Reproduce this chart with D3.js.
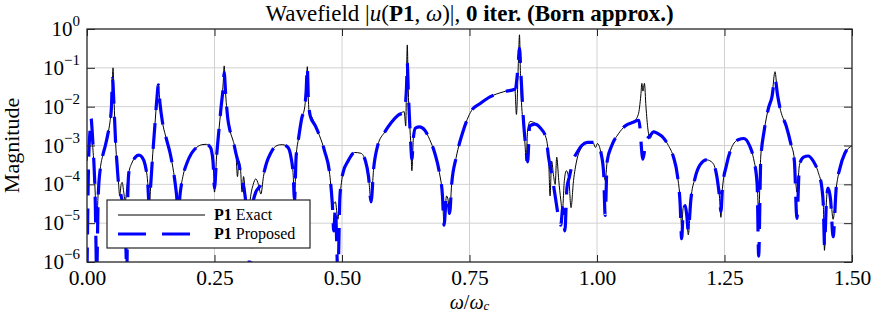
<!DOCTYPE html>
<html>
<head>
<meta charset="utf-8">
<script src="https://cdn.jsdelivr.net/npm/d3@7"></script>
<style>
  body { margin: 0; background: #fff; }
  svg text { font-family: "Liberation Serif", "DejaVu Serif", serif; fill: #000; }
</style>
</head>
<body>
<svg id="chart" width="872" height="313"></svg>
<script>
// frequency (omega / omega_c) and log10 magnitude
const exactW = [0.000,0.004,0.008,0.011,0.014,0.017,0.019,0.022,0.026,0.031,0.036,0.041,0.045,0.048,0.050,0.051,0.053,0.056,0.059,0.062,0.064,0.067,0.069,0.072,0.075,0.078,0.082,0.088,0.095,0.102,0.108,0.114,0.119,0.122,0.125,0.129,0.133,0.137,0.140,0.143,0.148,0.155,0.163,0.170,0.175,0.179,0.183,0.188,0.196,0.205,0.215,0.225,0.234,0.242,0.247,0.250,0.254,0.258,0.263,0.267,0.269,0.272,0.276,0.281,0.287,0.292,0.295,0.298,0.301,0.304,0.307,0.311,0.316,0.320,0.326,0.331,0.336,0.341,0.346,0.352,0.360,0.370,0.380,0.384,0.394,0.400,0.404,0.407,0.410,0.415,0.421,0.427,0.4297,0.432,0.434,0.436,0.440,0.448,0.456,0.466,0.476,0.481,0.484,0.487,0.492,0.496,0.502,0.512,0.525,0.537,0.546,0.552,0.557,0.562,0.570,0.584,0.597,0.610,0.622,0.625,0.6268,0.628,0.630,0.633,0.635,0.637,0.640,0.644,0.652,0.662,0.672,0.682,0.691,0.697,0.700,0.705,0.708,0.711,0.715,0.724,0.737,0.754,0.771,0.790,0.816,0.839,0.842,0.846,0.848,0.850,0.852,0.856,0.859,0.861,0.864,0.869,0.878,0.889,0.900,0.905,0.908,0.911,0.915,0.918,0.921,0.925,0.929,0.932,0.936,0.940,0.945,0.949,0.954,0.960,0.970,0.981,0.992,0.997,1.001,1.008,1.013,1.016,1.020,1.029,1.042,1.055,1.071,1.081,1.086,1.088,1.090,1.093,1.096,1.100,1.104,1.111,1.120,1.130,1.140,1.150,1.158,1.163,1.166,1.169,1.173,1.176,1.179,1.184,1.192,1.202,1.215,1.227,1.235,1.240,1.243,1.246,1.254,1.264,1.277,1.288,1.299,1.308,1.314,1.317,1.321,1.328,1.336,1.343,1.349,1.354,1.360,1.371,1.380,1.387,1.392,1.397,1.405,1.414,1.424,1.434,1.441,1.444,1.446,1.450,1.453,1.458,1.463,1.469,1.476,1.486,1.497,1.500];
const exactE = [-3.4,-3.0,-2.75,-3.0,-3.6,-4.5,-5.0,-4.2,-3.6,-3.25,-3.0,-2.7,-2.4,-2.0,-1.2,-1.0,-1.8,-2.9,-3.5,-4.0,-4.3,-4.0,-3.95,-4.2,-4.45,-4.1,-3.7,-3.45,-3.3,-3.25,-3.3,-3.5,-3.95,-4.6,-4.0,-3.2,-2.5,-1.8,-1.44,-1.9,-2.4,-2.8,-3.2,-3.7,-4.2,-4.8,-4.2,-3.8,-3.45,-3.2,-3.05,-2.98,-2.97,-3.05,-3.3,-4.2,-3.3,-2.7,-2.0,-1.4,-0.95,-1.7,-2.3,-2.65,-2.9,-3.2,-3.8,-3.4,-3.6,-4.2,-3.8,-4.4,-5.0,-4.4,-4.0,-3.86,-4.0,-4.25,-3.8,-3.45,-3.2,-3.02,-2.98,-2.98,-3.05,-3.3,-3.7,-4.4,-3.3,-2.8,-2.3,-2.0,-1.6,-0.97,-1.8,-2.2,-2.25,-2.5,-2.75,-3.15,-3.75,-4.4,-4.5,-4.45,-4.9,-4.3,-3.7,-3.4,-3.18,-3.2,-3.4,-3.8,-4.45,-3.6,-3.0,-2.65,-2.4,-2.22,-2.13,-2.5,-1.0,-0.41,-1.6,-2.5,-3.0,-3.65,-2.8,-2.55,-2.52,-2.6,-2.85,-3.2,-3.7,-4.3,-5.0,-4.3,-4.4,-4.75,-4.0,-3.3,-2.65,-2.1,-1.92,-1.75,-1.62,-1.55,-2.2,-0.8,-0.15,-1.2,-1.9,-2.5,-3.0,-3.4,-2.6,-2.38,-2.42,-2.55,-2.8,-3.3,-4.3,-3.4,-3.8,-4.0,-3.3,-3.9,-4.4,-4.7,-3.9,-3.65,-3.9,-4.6,-3.9,-3.4,-3.05,-2.92,-2.92,-3.05,-2.95,-3.2,-3.6,-3.9,-3.4,-3.0,-2.7,-2.5,-2.4,-2.2,-1.7,-1.4,-1.6,-1.4,-2.0,-2.6,-2.82,-2.63,-2.7,-2.8,-3.0,-3.3,-3.8,-4.4,-5.1,-4.6,-4.55,-4.8,-5.3,-4.4,-3.85,-3.5,-3.37,-3.45,-3.8,-4.3,-4.85,-4.1,-3.5,-3.05,-2.85,-2.82,-3.0,-3.4,-3.9,-4.8,-3.3,-2.6,-2.05,-1.75,-1.1,-1.7,-2.1,-2.5,-2.95,-3.35,-4.2,-3.5,-3.3,-3.27,-3.4,-3.7,-4.1,-4.6,-5.7,-4.4,-4.1,-4.3,-4.9,-4.1,-3.6,-3.2,-3.03,-3.0];

const propW = [0.000,0.003,0.006,0.008,0.010,0.013,0.016,0.019,0.022,0.026,0.031,0.036,0.041,0.045,0.048,0.050,0.052,0.056,0.059,0.062,0.067,0.072,0.076,0.078,0.080,0.082,0.088,0.095,0.102,0.108,0.114,0.119,0.122,0.125,0.129,0.133,0.137,0.140,0.143,0.148,0.155,0.163,0.170,0.175,0.179,0.183,0.188,0.196,0.205,0.215,0.225,0.234,0.242,0.247,0.250,0.254,0.258,0.263,0.267,0.269,0.272,0.276,0.281,0.287,0.292,0.298,0.304,0.310,0.315,0.320,0.324,0.331,0.336,0.341,0.346,0.352,0.360,0.370,0.380,0.384,0.394,0.400,0.404,0.407,0.410,0.415,0.421,0.427,0.4297,0.432,0.434,0.438,0.448,0.456,0.466,0.476,0.481,0.484,0.487,0.492,0.496,0.502,0.512,0.525,0.537,0.546,0.552,0.557,0.562,0.570,0.584,0.597,0.610,0.622,0.6265,0.628,0.630,0.633,0.635,0.637,0.640,0.644,0.652,0.662,0.672,0.682,0.691,0.697,0.700,0.705,0.708,0.711,0.715,0.724,0.737,0.754,0.771,0.790,0.816,0.839,0.845,0.848,0.851,0.856,0.860,0.864,0.868,0.878,0.889,0.900,0.905,0.912,0.918,0.924,0.929,0.933,0.937,0.941,0.946,0.954,0.960,0.970,0.981,0.992,1.001,1.008,1.013,1.016,1.020,1.029,1.042,1.055,1.071,1.082,1.090,1.096,1.104,1.111,1.120,1.130,1.140,1.150,1.158,1.163,1.166,1.169,1.173,1.176,1.179,1.184,1.192,1.202,1.215,1.227,1.235,1.240,1.243,1.246,1.254,1.264,1.277,1.288,1.299,1.308,1.314,1.317,1.321,1.328,1.336,1.343,1.349,1.354,1.360,1.371,1.380,1.387,1.392,1.397,1.405,1.414,1.424,1.434,1.441,1.444,1.446,1.450,1.453,1.458,1.463,1.469,1.476,1.486,1.497,1.500];
const propE = [-6.3,-3.5,-2.6,-2.3,-2.6,-3.3,-4.3,-6.3,-4.3,-3.6,-3.25,-3.0,-2.7,-2.4,-2.0,-1.27,-1.7,-2.9,-3.5,-4.0,-4.3,-4.7,-5.5,-6.3,-4.3,-3.7,-3.45,-3.3,-3.25,-3.3,-3.5,-3.95,-4.55,-4.0,-3.2,-2.5,-1.8,-1.44,-1.9,-2.4,-2.8,-3.2,-3.7,-4.2,-4.7,-4.2,-3.8,-3.45,-3.2,-3.05,-2.98,-2.97,-3.05,-3.4,-4.1,-3.3,-2.7,-2.0,-1.5,-1.12,-1.7,-2.3,-2.65,-2.9,-3.2,-3.5,-3.85,-4.3,-5.0,-6.3,-4.6,-4.2,-4.1,-4.0,-3.75,-3.45,-3.2,-3.02,-2.98,-2.98,-3.05,-3.3,-3.7,-4.4,-3.3,-2.8,-2.3,-2.0,-1.6,-0.97,-1.8,-2.25,-2.5,-2.75,-3.15,-3.75,-4.5,-5.2,-4.6,-6.3,-4.3,-3.7,-3.4,-3.18,-3.2,-3.4,-3.8,-4.45,-3.6,-3.0,-2.65,-2.4,-2.22,-2.13,-1.5,-0.88,-1.6,-2.5,-3.0,-3.35,-2.8,-2.55,-2.52,-2.6,-2.85,-3.2,-3.7,-4.3,-5.05,-4.3,-4.4,-4.75,-4.0,-3.3,-2.65,-2.1,-1.92,-1.75,-1.62,-1.55,-1.0,-0.5,-1.2,-2.4,-3.0,-3.42,-2.5,-2.45,-2.55,-2.8,-3.3,-3.8,-4.3,-4.8,-5.05,-4.6,-5.2,-4.1,-3.8,-3.35,-3.2,-3.0,-2.92,-2.92,-2.95,-3.2,-3.7,-4.8,-3.4,-3.0,-2.7,-2.5,-2.4,-2.35,-3.35,-2.9,-2.75,-2.65,-2.7,-2.8,-3.0,-3.3,-3.8,-4.5,-5.4,-4.7,-4.55,-4.8,-5.2,-4.4,-3.85,-3.5,-3.37,-3.45,-3.8,-4.3,-4.7,-4.1,-3.5,-3.05,-2.85,-2.82,-3.0,-3.4,-4.0,-5.85,-3.4,-2.6,-2.05,-1.75,-1.27,-1.7,-2.1,-2.5,-2.95,-3.4,-4.88,-3.5,-3.3,-3.27,-3.4,-3.7,-4.1,-4.6,-5.56,-4.4,-4.1,-4.4,-5.35,-4.1,-3.6,-3.2,-3.03,-3.0];

const xTicks = [0, 0.25, 0.5, 0.75, 1.0, 1.25, 1.5];
const yTicks = [1e-6, 1e-5, 1e-4, 1e-3, 1e-2, 1e-1, 1];
const yTickExp = ["\u22126", "\u22125", "\u22124", "\u22123", "\u22122", "\u22121", "0"];

const padLeft = 87, padTop = 29, plotW = 765, plotH = 233;

const svg = d3.select("#chart");

const x = d3.scaleLinear().domain([0, 1.5]).range([padLeft, padLeft + plotW]);
const y = d3.scaleLog().domain([1e-6, 1]).range([padTop + plotH, padTop]);

// pair up the arrays
const exactData = exactW.map((w, i) => ({ w: w, v: Math.pow(10, exactE[i]) }));
const propData = propW.map((w, i) => ({ w: w, v: Math.pow(10, propE[i]) }));

svg.append("clipPath").attr("id", "plotClip")
  .append("rect").attr("x", padLeft).attr("y", padTop).attr("width", plotW).attr("height", plotH);

// grid
const grid = svg.append("g").attr("stroke", "#d2d2d2").attr("stroke-width", 1);
grid.selectAll(".gx").data(xTicks.slice(1, -1)).enter().append("line")
  .attr("x1", d => x(d)).attr("x2", d => x(d)).attr("y1", padTop).attr("y2", padTop + plotH);
grid.selectAll(".gy").data(yTicks.slice(1, -1)).enter().append("line")
  .attr("y1", d => y(d)).attr("y2", d => y(d)).attr("x1", padLeft).attr("x2", padLeft + plotW);

const line = d3.line()
  .x(d => x(d.w))
  .y(d => y(d.v))
  .curve(d3.curveMonotoneX);

const plot = svg.append("g").attr("clip-path", "url(#plotClip)");

plot.append("path").datum(exactData)
  .attr("d", line)
  .attr("fill", "none").attr("stroke", "#000").attr("stroke-width", 1);

plot.append("path").datum(propData)
  .attr("d", line)
  .attr("fill", "none").attr("stroke", "#0000ff").attr("stroke-width", 3.2)
  .attr("stroke-dasharray", "26,13");

// axes with inward ticks on all four sides
const axisColor = "#262626";
const xAxis = d3.axisBottom(x).tickValues(xTicks).tickSizeInner(-7).tickSizeOuter(0)
  .tickPadding(8).tickFormat(d3.format(".2f"));
const gx = svg.append("g").attr("transform", `translate(0,${padTop + plotH})`).call(xAxis);
gx.selectAll("text").attr("font-size", 21.5).attr("font-family", "Liberation Serif");

const xTop = d3.axisTop(x).tickValues(xTicks).tickSizeInner(-7).tickSizeOuter(0).tickFormat("");
svg.append("g").attr("transform", `translate(0,${padTop})`).call(xTop);

const yAxis = d3.axisLeft(y).tickValues(yTicks).tickSizeInner(-8).tickSizeOuter(0).tickFormat("");
svg.append("g").attr("transform", `translate(${padLeft},0)`).call(yAxis);
const yRight = d3.axisRight(y).tickValues(yTicks).tickSizeInner(-8).tickSizeOuter(0).tickFormat("");
svg.append("g").attr("transform", `translate(${padLeft + plotW},0)`).call(yRight);

svg.selectAll(".domain").remove();
svg.selectAll(".tick line").attr("stroke", axisColor);

// y tick labels as 10 with superscript
yTicks.forEach((t, i) => {
  const txt = svg.append("text")
    .attr("x", padLeft - 7).attr("y", y(t) + 7)
    .attr("text-anchor", "end").attr("font-size", 21);
  txt.append("tspan").text("10");
  txt.append("tspan").attr("font-size", 15).attr("dy", -10).text(yTickExp[i]);
});

// plot box
svg.append("rect").attr("x", padLeft).attr("y", padTop).attr("width", plotW).attr("height", plotH)
  .attr("fill", "none").attr("stroke", axisColor).attr("stroke-width", 1.3);

// title
const title = svg.append("text").attr("x", padLeft + plotW / 2).attr("y", 21)
  .attr("text-anchor", "middle").attr("font-size", 23);
title.append("tspan").text("Wavefield |");
title.append("tspan").attr("font-style", "italic").text("u");
title.append("tspan").text("(");
title.append("tspan").attr("font-weight", "bold").text("P1");
title.append("tspan").text(", ");
title.append("tspan").attr("font-style", "italic").text("\u03c9");
title.append("tspan").text(")|, ");
title.append("tspan").attr("font-weight", "bold").text("0 iter.  (Born approx.)");

// axis labels
const xl = svg.append("text").attr("x", padLeft + plotW / 2).attr("y", 309)
  .attr("text-anchor", "middle").attr("font-size", 20).attr("font-style", "italic");
xl.append("tspan").text("\u03c9");
xl.append("tspan").attr("font-style", "normal").text("/");
xl.append("tspan").text("\u03c9");
xl.append("tspan").attr("font-size", 13).attr("dy", 1).text("c");

svg.append("text")
  .attr("transform", `translate(19,${padTop + plotH / 2}) rotate(-90)`)
  .attr("text-anchor", "middle").attr("font-size", 22)
  .text("Magnitude");

// legend
const lg = svg.append("g");
lg.append("rect").attr("x", 107).attr("y", 200).attr("width", 203).attr("height", 48)
  .attr("fill", "#fff").attr("stroke", axisColor).attr("stroke-width", 1.2);
lg.append("line").attr("x1", 118).attr("x2", 205).attr("y1", 215).attr("y2", 215)
  .attr("stroke", "#000").attr("stroke-width", 1);
lg.append("line").attr("x1", 118).attr("x2", 205).attr("y1", 234).attr("y2", 234)
  .attr("stroke", "#0000ff").attr("stroke-width", 3.2).attr("stroke-dasharray", "28,16");
const legendNames = ["Exact", "Proposed"];
legendNames.forEach((n, i) => {
  const t = lg.append("text").attr("x", 214).attr("y", 220 + i * 19).attr("font-size", 16);
  t.append("tspan").attr("font-weight", "bold").text("P1");
  t.append("tspan").text(" " + n);
});
</script>
</body>
</html>
